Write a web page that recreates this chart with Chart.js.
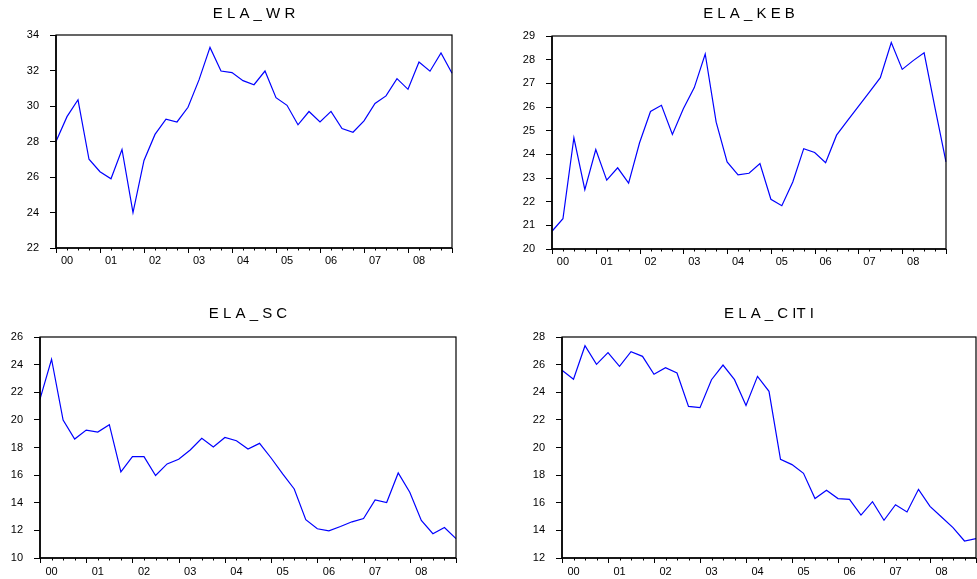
<!DOCTYPE html>
<html>
<head>
<meta charset="utf-8">
<script src="https://cdn.jsdelivr.net/npm/chart.js@4.4.0/dist/chart.umd.min.js"></script>
<style>
  body { margin: 0; background: #fff; width: 977px; height: 579px; overflow: hidden; position: relative; }
  .panel { position: absolute; }
</style>
</head>
<body>
<div class="panel" style="left:0px;top:0px;width:480px;height:285px"><canvas id="c1"></canvas></div>
<div class="panel" style="left:480px;top:0px;width:497px;height:285px"><canvas id="c2"></canvas></div>
<div class="panel" style="left:0px;top:290px;width:480px;height:289px"><canvas id="c3"></canvas></div>
<div class="panel" style="left:480px;top:290px;width:497px;height:289px"><canvas id="c4"></canvas></div>
<script>
// quarterly observations 2000Q1 .. 2009Q1
var quarters = ["2000Q1","2000Q2","2000Q3","2000Q4","2001Q1","2001Q2","2001Q3","2001Q4",
  "2002Q1","2002Q2","2002Q3","2002Q4","2003Q1","2003Q2","2003Q3","2003Q4",
  "2004Q1","2004Q2","2004Q3","2004Q4","2005Q1","2005Q2","2005Q3","2005Q4",
  "2006Q1","2006Q2","2006Q3","2006Q4","2007Q1","2007Q2","2007Q3","2007Q4",
  "2008Q1","2008Q2","2008Q3","2008Q4","2009Q1"];
var yearLabels = ["00","01","02","03","04","05","06","07","08"];

var ela_wr = [28.0,29.4,30.35,27.0,26.3,25.9,27.55,24.0,26.93,28.4,29.26,29.1,29.93,31.47,33.3,31.97,
  31.88,31.43,31.2,31.97,30.47,30.04,28.94,29.69,29.1,29.7,28.73,28.52,29.16,30.14,30.57,31.54,
  30.94,32.48,31.96,32.99,31.84];
var ela_keb = [20.75,21.28,24.7,22.51,24.2,22.91,23.43,22.78,24.49,25.81,26.07,24.84,25.93,26.82,28.24,25.36,
  23.68,23.13,23.2,23.61,22.1,21.83,22.83,24.24,24.08,23.65,24.81,25.42,26.03,26.63,27.24,28.72,
  27.59,27.96,28.29,25.95,23.68];
var ela_sc = [21.5,24.39,19.98,18.61,19.26,19.12,19.65,16.23,17.34,17.34,15.97,16.81,17.15,17.82,18.66,18.04,
  18.73,18.49,17.89,18.3,17.24,16.09,15.0,12.77,12.12,11.97,12.28,12.62,12.86,14.21,14.02,16.16,
  14.76,12.72,11.76,12.21,11.4];
var ela_citi = [25.59,24.94,27.37,26.02,26.87,25.88,26.94,26.6,25.3,25.78,25.39,22.98,22.88,24.91,25.97,24.91,
  23.05,25.15,24.07,19.14,18.76,18.13,16.3,16.9,16.3,16.25,15.11,16.08,14.73,15.86,15.33,16.97,
  15.74,14.97,14.2,13.23,13.4];

var titles = ["E L A _ W R", "E L A _ K E B", "E L A _ S C", "E L A _ C IT I"];
var yMins = [22, 20, 10, 12];
var yMaxs = [34, 29, 26, 28];
var ySteps = [2, 1, 2, 2];

var FONT = "'Liberation Sans', Arial, sans-serif";

// EViews-like frame and quarter tick marks
var framePlugin = {
  id: 'frame',
  afterDraw: function (chart) {
    var ctx = chart.ctx, a = chart.chartArea, xs = chart.scales.x;
    ctx.save();
    ctx.strokeStyle = '#000';
    ctx.lineWidth = 1;
    for (var i = 0; i < quarters.length; i++) {
      var px = Math.round(xs.getPixelForValue(i)) + 0.5;
      var len = (i % 4 === 0) ? 5 : 2.5;
      ctx.beginPath();
      ctx.moveTo(px, a.bottom);
      ctx.lineTo(px, a.bottom + len);
      ctx.stroke();
    }
    ctx.lineWidth = 1.2;
    ctx.strokeRect(a.left, a.top, a.right - a.left, a.bottom - a.top);
    ctx.lineWidth = 1.6;
    ctx.beginPath();
    ctx.moveTo(a.left, a.top);
    ctx.lineTo(a.left, a.bottom);
    ctx.lineTo(a.right, a.bottom);
    ctx.stroke();
    ctx.restore();
  }
};

function makePanel(id, n, data, lay) {
  return new Chart(id, {
    type: 'line',
    data: {
      labels: quarters,
      datasets: [{
        data: data, borderColor: '#0000ff', borderWidth: 1.2,
        pointRadius: 0, tension: 0, fill: false
      }]
    },
    options: {
      responsive: true, maintainAspectRatio: false, animation: false,
      layout: { padding: { left: 0, right: lay.right, top: 0, bottom: 0 } },
      plugins: {
        legend: { display: false },
        tooltip: { enabled: false },
        title: {
          display: true, text: titles[n], fullSize: false, color: '#000',
          font: { family: FONT, size: 15, weight: 'normal', lineHeight: 1.2 },
          padding: { top: lay.tTop, bottom: lay.tBottom }
        }
      },
      scales: {
        x: {
          type: 'category',
          offset: false,
          // invisible tick marks only push the labels down; real marks come from the plugin
          grid: { display: true, drawOnChartArea: false, drawTicks: true, tickLength: lay.xPad, tickColor: 'rgba(0,0,0,0)' },
          border: { display: false },
          ticks: {
            autoSkip: false, maxRotation: 0, minRotation: 0, padding: 0,
            color: '#000', font: { family: FONT, size: 11 },
            callback: function (v, i) { return (i % 4 === 1) ? yearLabels[(i - 1) / 4] : ''; }
          },
          afterFit: function (s) { s.height = lay.xH; }
        },
        y: {
          min: yMins[n], max: yMaxs[n],
          grid: { drawOnChartArea: false, drawTicks: true, tickLength: 6, tickColor: '#000', tickWidth: 1 },
          border: { display: false },
          ticks: {
            stepSize: ySteps[n], padding: 11, color: '#000',
            font: { family: FONT, size: 11 }
          },
          afterFit: function (s) { s.width = lay.yW; }
        }
      }
    },
    plugins: [framePlugin]
  });
}

makePanel('c1', 0, ela_wr,   { yW: 56, right: 28, tTop: 5,  tBottom: 12, xH: 37, xPad: 6 });
makePanel('c2', 1, ela_keb,  { yW: 72, right: 31, tTop: 5,  tBottom: 13, xH: 36, xPad: 6 });
makePanel('c3', 2, ela_sc,   { yW: 40, right: 24, tTop: 15, tBottom: 14, xH: 21, xPad: 7 });
makePanel('c4', 3, ela_citi, { yW: 82, right: 1,  tTop: 15, tBottom: 14, xH: 21, xPad: 7 });
</script>
</body>
</html>
